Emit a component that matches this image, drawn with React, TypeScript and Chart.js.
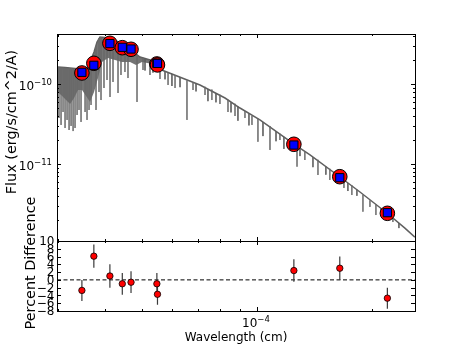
import React, { useEffect, useRef } from "react";
import { Chart, registerables } from "chart.js";
Chart.register(...registerables);

const FONT = '"DejaVu Sans", sans-serif';
const UM = 1e-4; // micron -> cm
const FU = 1e-10; // flux unit

// axis ranges
const WL_MIN = 2.985e-5;
const WL_MAX = 2.6e-4;
const FLUX_MIN = 1.081e-12;
const FLUX_MAX = 4.277e-10;
const PCT_MIN = -8;
const PCT_MAX = 10;

// ticks
const wlMajorTicks = [1e-4];
const wlMajorLabels = ["\u22124"];
const wlMinorTicks = [3e-5, 4e-5, 5e-5, 6e-5, 7e-5, 8e-5, 9e-5, 2e-4];
const fluxMajorTicks = [1e-10, 1e-11];
const fluxMajorLabels = ["\u221210", "\u221211"];
const fluxMinorTicks = [2e-12, 3e-12, 4e-12, 5e-12, 6e-12, 7e-12, 8e-12, 9e-12, 2e-11, 3e-11, 4e-11, 5e-11, 6e-11, 7e-11, 8e-11, 9e-11, 2e-10, 3e-10, 4e-10];
const pctTicks = [-8, -6, -4, -2, 0, 2, 4, 6, 8, 10];
const pctLabels = ["\u22128", "\u22126", "\u22124", "\u22122", "0", "2", "4", "6", "8", "10"];

// photometry (wavelength in micron, flux in 1e-10 erg/s/cm^2/A)
const photWl = [0.347, 0.373, 0.411, 0.443, 0.467, 0.546, 0.548, 1.25, 1.65, 2.2];
const photFlux = [1.387, 1.834, 3.27, 2.88, 2.75, 1.8, 1.75, 0.1767, 0.0693, 0.02406];
const modelFlux = [1.414, 1.731, 3.24, 2.91, 2.77, 1.83, 1.83, 0.173, 0.0673, 0.0245];
const pctDiff = [-2.7, 6.1, 1.0, -1.0, -0.6, -1.0, -3.7, 2.4, 3.0, -4.7];
const pctErr = [2.7, 3.0, 3.0, 2.8, 2.8, 2.8, 2.7, 2.9, 3.0, 2.7];

// model spectrum upper envelope
const specWl = [0.3, 0.3134, 0.3329, 0.3494, 0.3558, 0.3645, 0.3734, 0.3802, 0.3871, 0.399, 0.4113, 0.4265, 0.4422, 0.4585, 0.467, 0.4813, 0.4931, 0.5237, 0.5464, 0.5666, 0.7085, 0.8244, 0.9024, 1.018, 1.251, 1.378, 1.652, 1.864, 2.194, 2.446, 2.598];
const specFlux = [1.648, 1.625, 1.579, 1.511, 1.427, 1.905, 2.543, 3.394, 3.922, 3.866, 3.701, 3.493, 3.203, 3.112, 2.854, 2.4, 2.2, 2.018, 1.697, 1.49, 0.98, 0.673, 0.504, 0.357, 0.178, 0.13, 0.0687, 0.0445, 0.0243, 0.0157, 0.0121];
// lower edge of the dense line-blanketed blue region
const bandLowWl = [0.3, 0.3078, 0.3153, 0.323, 0.3309, 0.339, 0.3473, 0.3558, 0.3645, 0.3734, 0.3825, 0.3918, 0.4063, 0.4239, 0.4422, 0.4642, 0.4813, 0.4991, 0.5237];
const bandLowFlux = [0.8, 0.713, 0.635, 0.566, 0.673, 0.848, 0.848, 0.713, 0.6, 0.8, 1.199, 1.905, 2.138, 2.018, 1.905, 1.905, 1.747, 1.905, 1.824];
// absorption lines (strong)
const lineWl = [0.3021, 0.3059, 0.3096, 0.3134, 0.3172, 0.3211, 0.325, 0.329, 0.3329, 0.337, 0.341, 0.3452, 0.3537, 0.3579, 0.3623, 0.3667, 0.3779, 0.3848, 0.3895, 0.3966, 0.4039, 0.4113, 0.4188, 0.4317, 0.4395, 0.4502, 0.4585, 0.4842, 0.5021, 0.5237, 0.5564, 0.5842, 0.6094, 0.655, 0.6793, 0.7304, 0.7615, 0.7995, 0.8393, 0.8757, 0.93, 0.9703, 1.006, 1.082, 1.149, 1.206, 1.274, 1.336, 1.446, 1.554, 1.692, 1.775, 1.898, 1.98, 2.053, 2.275];
const lineTop = [1.64, 1.63, 1.63, 1.62, 1.61, 1.6, 1.59, 1.58, 1.58, 1.56, 1.54, 1.52, 1.45, 1.5, 1.75, 2.0, 3.0, 3.8, 3.9, 3.87, 3.8, 3.7, 3.6, 3.4, 3.25, 3.15, 3.11, 2.35, 2.15, 2.02, 1.6, 1.4, 1.3, 1.12, 1.06, 0.93, 0.86, 0.74, 0.64, 0.57, 0.46, 0.4, 0.37, 0.3, 0.24, 0.2, 0.17, 0.145, 0.113, 0.087, 0.063, 0.054, 0.041, 0.035, 0.031, 0.021];
const lineBottom = [0.378, 0.309, 0.449, 0.283, 0.357, 0.267, 0.3, 0.259, 0.283, 0.412, 0.476, 0.337, 0.449, 0.357, 0.476, 0.55, 0.476, 0.8, 0.635, 0.899, 1.132, 0.693, 1.069, 0.778, 1.308, 1.427, 1.199, 0.6, 1.511, 1.308, 1.166, 0.98, 0.899, 0.357, 0.848, 0.734, 0.635, 0.566, 0.449, 0.4, 0.378, 0.309, 0.19, 0.15, 0.2, 0.159, 0.0925, 0.1122, 0.0728, 0.063, 0.05, 0.0408, 0.0252, 0.0289, 0.0229, 0.0187];
// weak absorption lines
const weakWl = [0.5082, 0.5333, 0.5735, 0.5981, 0.6281, 0.6918, 0.7436, 0.7805, 0.8548, 0.8914, 0.9528, 1.037, 1.122, 1.177, 1.297, 1.403, 1.517, 1.612, 1.733, 1.83, 2.116, 2.359];
const weakTop = [2.107, 1.872, 1.456, 1.347, 1.228, 1.026, 0.868, 0.771, 0.593, 0.524, 0.431, 0.3355, 0.257, 0.219, 0.1583, 0.1217, 0.0925, 0.0747, 0.0578, 0.0475, 0.0278, 0.0182];
const weakBottom = [1.49, 1.402, 1.155, 0.952, 0.92, 0.815, 0.614, 0.594, 0.444, 0.349, 0.305, 0.224, 0.193, 0.1547, 0.1257, 0.0912, 0.0734, 0.061, 0.0458, 0.0399, 0.0234, 0.0157];

function drawPow(ctx: CanvasRenderingContext2D, base: string, exp: string, x: number, y: number, align: "right" | "center") {
  ctx.font = `12px ${FONT}`;
  const wb = ctx.measureText(base).width;
  ctx.font = `8.5px ${FONT}`;
  const we = ctx.measureText(exp).width;
  const total = wb + we;
  const x0 = align === "right" ? x - total : x - total / 2;
  ctx.textAlign = "left";
  ctx.textBaseline = "alphabetic";
  ctx.font = `12px ${FONT}`;
  ctx.fillText(base, x0, y + 6);
  ctx.font = `8.5px ${FONT}`;
  ctx.fillText(exp, x0 + wb, y + 0.8);
}

function frame(ctx: CanvasRenderingContext2D, a: any) {
  ctx.strokeStyle = "#000";
  ctx.lineWidth = 1;
  ctx.strokeRect(a.left + 0.5, a.top + 0.5, a.right - a.left, a.bottom - a.top);
}

function xTicks(ctx: CanvasRenderingContext2D, xs: any, a: any) {
  ctx.beginPath();
  wlMajorTicks.forEach((v) => {
    const p = Math.round(xs.getPixelForValue(v)) + 0.5;
    ctx.moveTo(p, a.bottom); ctx.lineTo(p, a.bottom - 4);
    ctx.moveTo(p, a.top); ctx.lineTo(p, a.top + 4);
  });
  wlMinorTicks.forEach((v) => {
    const p = Math.round(xs.getPixelForValue(v)) + 0.5;
    if (p < a.left + 1 || p > a.right - 1) return;
    ctx.moveTo(p, a.bottom); ctx.lineTo(p, a.bottom - 2);
    ctx.moveTo(p, a.top); ctx.lineTo(p, a.top + 2);
  });
  ctx.stroke();
}

const topDecor = {
  id: "topDecor",
  afterDraw(chart: any) {
    const { ctx, chartArea: a, scales } = chart;
    const xs = scales.x, ys = scales.y;
    ctx.save();
    frame(ctx, a);
    xTicks(ctx, xs, a);
    ctx.beginPath();
    fluxMajorTicks.forEach((v) => {
      const p = Math.round(ys.getPixelForValue(v)) + 0.5;
      ctx.moveTo(a.left, p); ctx.lineTo(a.left + 4, p);
      ctx.moveTo(a.right, p); ctx.lineTo(a.right - 4, p);
    });
    fluxMinorTicks.forEach((v) => {
      const p = Math.round(ys.getPixelForValue(v)) + 0.5;
      if (p < a.top + 1 || p > a.bottom - 1) return;
      ctx.moveTo(a.left, p); ctx.lineTo(a.left + 2, p);
      ctx.moveTo(a.right, p); ctx.lineTo(a.right - 2, p);
    });
    ctx.stroke();
    ctx.fillStyle = "#000";
    fluxMajorTicks.forEach((v, i) => {
      drawPow(ctx, "10", fluxMajorLabels[i], a.left - 5, ys.getPixelForValue(v), "right");
    });
    ctx.save();
    ctx.translate(12, 122);
    ctx.rotate(-Math.PI / 2);
    ctx.font = `14.4px ${FONT}`;
    ctx.textAlign = "center";
    ctx.textBaseline = "middle";
    ctx.fillText("Flux (erg/s/cm^2/A)", 0, 0);
    ctx.restore();
    ctx.restore();
  },
};

const botDecor = {
  id: "botDecor",
  afterDraw(chart: any) {
    const { ctx, chartArea: a, scales } = chart;
    const xs = scales.x, ys = scales.y;
    ctx.save();
    frame(ctx, a);
    xTicks(ctx, xs, a);
    ctx.beginPath();
    pctTicks.forEach((v) => {
      const p = Math.round(ys.getPixelForValue(v)) + 0.5;
      ctx.moveTo(a.left, p); ctx.lineTo(a.left + 4, p);
      ctx.moveTo(a.right, p); ctx.lineTo(a.right - 4, p);
    });
    ctx.stroke();
    ctx.fillStyle = "#000";
    ctx.font = `12px ${FONT}`;
    ctx.textAlign = "right";
    ctx.textBaseline = "middle";
    pctTicks.forEach((v, i) => {
      ctx.fillText(pctLabels[i], a.left - 2.5, ys.getPixelForValue(v) + 1);
    });
    wlMajorTicks.forEach((v, i) => {
      drawPow(ctx, "10", wlMajorLabels[i], xs.getPixelForValue(v) - 1, a.bottom + 10, "center");
    });
    ctx.font = `12px ${FONT}`;
    ctx.textAlign = "center";
    ctx.textBaseline = "alphabetic";
    ctx.fillText("Wavelength (cm)", (a.left + a.right) / 2, 341);
    ctx.save();
    ctx.translate(31, 263);
    ctx.rotate(-Math.PI / 2);
    ctx.font = `14.4px ${FONT}`;
    ctx.textAlign = "center";
    ctx.textBaseline = "middle";
    ctx.fillText("Percent Difference", 0, 0);
    ctx.restore();
    ctx.restore();
  },
};

function segs(wl: number[], top: number[], bottom: number[]) {
  const out: any[] = [];
  wl.forEach((w, i) => {
    out.push({ x: w * UM, y: top[i] * FU }, { x: w * UM, y: bottom[i] * FU }, { x: w * UM, y: null });
  });
  return out;
}

function topConfig(): any {
  const envelope = specWl.map((w, i) => ({ x: w * UM, y: specFlux[i] * FU }));
  const nBand = specWl.filter((w) => w <= bandLowWl[bandLowWl.length - 1]).length;
  const band = envelope.slice(0, nBand).concat(
    bandLowWl.map((w, i) => ({ x: w * UM, y: bandLowFlux[i] * FU })).reverse()
  );
  return {
    type: "line",
    data: {
      datasets: [
        {
          data: photWl.map((w, i) => ({ x: w * UM, y: modelFlux[i] * FU })),
          showLine: false, pointStyle: "rect", pointRadius: 5.8, backgroundColor: "#0000ff", borderColor: "#000", borderWidth: 1,
        },
        {
          data: photWl.map((w, i) => ({ x: w * UM, y: photFlux[i] * FU })),
          showLine: false, pointStyle: "circle", pointRadius: 7.3, backgroundColor: "#ff0000", borderColor: "#000", borderWidth: 1,
        },
        {
          data: segs(lineWl, lineTop, lineBottom), showLine: true, spanGaps: false, pointRadius: 0, borderColor: "rgba(105,105,105,0.75)", borderWidth: 1, fill: false,
        },
        {
          data: segs(weakWl, weakTop, weakBottom), showLine: true, spanGaps: false, pointRadius: 0, borderColor: "rgba(95,95,95,0.85)", borderWidth: 1, fill: false,
        },
        {
          data: envelope, showLine: true, pointRadius: 0, borderColor: "#606060", borderWidth: 1.5, fill: false,
        },
        {
          data: band, showLine: true, pointRadius: 0, borderColor: "rgba(0,0,0,0)", borderWidth: 0, fill: "shape", backgroundColor: "#737373",
        },
      ],
    },
    options: {
      responsive: false,
      animation: false,
      events: [],
      layout: { padding: { left: 57, top: 34, right: 46, bottom: 105 } },
      plugins: { legend: { display: false }, tooltip: { enabled: false } },
      scales: {
        x: { type: "logarithmic", min: WL_MIN, max: WL_MAX, display: false },
        y: { type: "logarithmic", min: FLUX_MIN, max: FLUX_MAX, display: false },
      },
    },
    plugins: [topDecor],
  };
}

function botConfig(): any {
  const bars: any[] = [];
  photWl.forEach((w, i) => {
    bars.push({ x: w * UM, y: pctDiff[i] - pctErr[i] }, { x: w * UM, y: pctDiff[i] + pctErr[i] }, { x: w * UM, y: null });
  });
  return {
    type: "line",
    data: {
      datasets: [
        {
          data: photWl.map((w, i) => ({ x: w * UM, y: pctDiff[i] })),
          showLine: false, pointRadius: 3.2, backgroundColor: "#ff0000", borderColor: "#000", borderWidth: 0.8,
        },
        {
          data: bars, showLine: true, spanGaps: false, pointRadius: 0, borderColor: "#3a3a3a", borderWidth: 1.2, fill: false,
        },
        {
          data: [{ x: WL_MIN, y: 0 }, { x: WL_MAX, y: 0 }],
          showLine: true, pointRadius: 0, borderColor: "#000", borderWidth: 1, borderDash: [4, 2.5], fill: false,
        },
      ],
    },
    options: {
      responsive: false,
      animation: false,
      events: [],
      layout: { padding: { left: 57, top: 241, right: 46, bottom: 35 } },
      plugins: { legend: { display: false }, tooltip: { enabled: false } },
      scales: {
        x: { type: "logarithmic", min: WL_MIN, max: WL_MAX, display: false },
        y: { type: "linear", min: PCT_MIN, max: PCT_MAX, display: false },
      },
    },
    plugins: [botDecor],
  };
}

export default function App() {
  const topRef = useRef<HTMLCanvasElement>(null);
  const botRef = useRef<HTMLCanvasElement>(null);
  useEffect(() => {
    const c1 = new Chart(topRef.current as HTMLCanvasElement, topConfig());
    const c2 = new Chart(botRef.current as HTMLCanvasElement, botConfig());
    return () => {
      c1.destroy();
      c2.destroy();
    };
  }, []);
  return (
    <div style={{ position: "fixed", left: 0, top: 0, width: 461, height: 346, background: "#fff" }}>
      <canvas ref={topRef} width={461} height={346} style={{ position: "absolute", left: 0, top: 0 }} />
      <canvas ref={botRef} width={461} height={346} style={{ position: "absolute", left: 0, top: 0 }} />
    </div>
  );
}
